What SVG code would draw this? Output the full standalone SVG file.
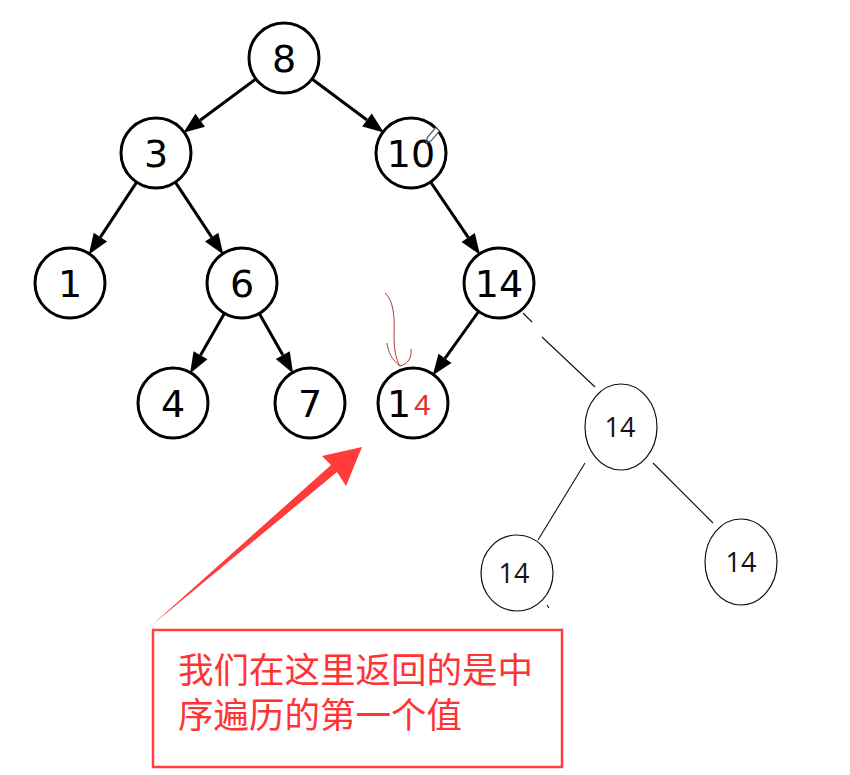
<svg xmlns="http://www.w3.org/2000/svg" width="850" height="775" viewBox="0 0 850 775">
<style>
.n{fill:#fff;stroke:#000;stroke-width:3}
.t{font-family:"DejaVu Sans",sans-serif;font-size:38px;fill:#000;text-anchor:middle}
.e{fill:none;stroke:#000;stroke-width:3}
.d{fill:#fff;stroke:#111;stroke-width:1.2}
.dl{fill:none;stroke:#111;stroke-width:1.1}
.s{font-family:"Open Sans","Noto Sans",sans-serif;font-size:27px;fill:#111;text-anchor:middle}
.cn{font-family:"Noto Sans CJK SC",sans-serif;font-size:35.5px;fill:#ff3333}
</style>
<defs>
<marker id="ah" markerUnits="userSpaceOnUse" markerWidth="24" markerHeight="18" refX="0" refY="8" orient="auto" overflow="visible">
<path d="M0,0 L21,8 L0,16 z" fill="#000"/>
</marker>
</defs>
<rect width="850" height="775" fill="#fff"/>
<g id="connectors">
<path class="e" d="M255.9,78.9 L200.2,120.2" marker-end="url(#ah)"/>
<path class="e" d="M312,79 L367,120" marker-end="url(#ah)"/>
<path class="e" d="M136.7,182.2 L100.4,237.1" marker-end="url(#ah)"/>
<path class="e" d="M175.3,182.2 L211.7,237.1" marker-end="url(#ah)"/>
<path class="e" d="M224.5,313.3 L200.5,355.3" marker-end="url(#ah)"/>
<path class="e" d="M259.3,313.5 L282.8,355.1" marker-end="url(#ah)"/>
<path class="e" d="M430.6,182 L468.2,237.4" marker-end="url(#ah)"/>
<path class="e" d="M478.6,311.5 L445,358.3" marker-end="url(#ah)"/>
<path class="dl" d="M523,313 L532,322 M542,337 L595,387"/>
<path class="dl" d="M585,463 L538,540"/>
<path class="dl" d="M653,463 L713,523"/>
<path class="dl" d="M547,605 L549,608"/>
</g>
<g id="n8"><circle class="n" cx="284" cy="58" r="35"/><text class="t" x="284" y="72">8</text></g>
<g id="n3"><circle class="n" cx="156" cy="153" r="35"/><text class="t" x="156" y="167">3</text></g>
<g id="n10"><circle class="n" cx="411" cy="153" r="35"/><text class="t" x="411" y="167">10</text>
<g transform="translate(426,143) rotate(-50)"><path d="M0,0 L5,-2.5 L18,-2.5 L18,2.5 L5,2.5 z" fill="#fff" stroke="#555" stroke-width="1.2"/><path d="M0,0 L3,-1.2 L3,1.2 z" fill="#333"/></g>
</g>
<g id="n1"><circle class="n" cx="70" cy="283" r="35"/><text class="t" x="70" y="297">1</text></g>
<g id="n6"><circle class="n" cx="242" cy="283" r="35"/><text class="t" x="242" y="297">6</text></g>
<g id="n14"><circle class="n" cx="499" cy="283" r="35"/><text class="t" x="499" y="297">14</text></g>
<g id="n4"><circle class="n" cx="173" cy="403" r="35"/><text class="t" x="173" y="417">4</text></g>
<g id="n7"><circle class="n" cx="310" cy="403" r="35"/><text class="t" x="310" y="417">7</text></g>
<g id="n14r"><circle class="n" cx="413" cy="403" r="35"/><text class="t" x="399" y="417">1</text>
<text x="414" y="415" font-family="Liberation Sans,sans-serif" font-size="30" fill="#e53030">4</text>
<path d="M385,293 C393,300 395,315 394,335 C394,350 396,360 400,366 M387,343 C388,352 392,360 400,366 M411,349 C412,358 408,364 400,366" fill="none" stroke="#a83c3c" stroke-width="1"/>
</g>
<g id="d1"><ellipse class="d" cx="621" cy="427" rx="36" ry="43"/><text class="s" x="620" y="437">14</text></g>
<g id="d2"><ellipse class="d" cx="517" cy="573" rx="36" ry="38"/><text class="s" x="514" y="583">14</text></g>
<g id="d3"><ellipse class="d" cx="741" cy="562" rx="36" ry="43"/><text class="s" x="741" y="572">14</text></g>
<g id="callout">
<polygon points="152,625 331,465 322,456 362,447 346,486 337,472" fill="#ff3b3b"/>
<rect x="153" y="630" width="409" height="137" fill="none" stroke="#ff4040" stroke-width="2.5"/>
<text class="cn" x="178" y="683">我们在这里返回的是中</text>
<text class="cn" x="178" y="728">序遍历的第一个值</text>
</g>
</svg>
